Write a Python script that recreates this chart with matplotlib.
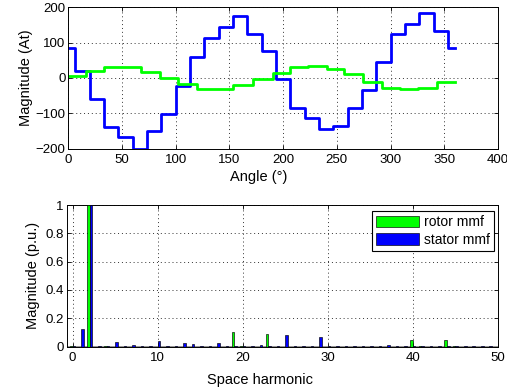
import matplotlib
matplotlib.use("Agg")
import matplotlib.pyplot as plt
import numpy as np

plt.rcParams['font.family'] = ['Liberation Sans', 'DejaVu Sans']

# --- top plot: MMF waveforms vs angle ---
stator_edges = [0, 6.7, 20, 33.3, 46.7, 60, 73.3, 86.7, 100, 113.3, 126.7, 140, 153.3,
                166.7, 180, 193.3, 206.7, 220, 233.3, 246.7, 260, 273.3, 286.7, 300,
                313.3, 326.7, 340, 353.3, 360]
stator_mmf = [86, 21, -59, -139, -168, -200, -150, -101, -22, 58, 114, 144, 175, 125,
              76, -4, -84, -113, -144, -135, -86, -35, 45, 124, 154, 185, 134, 84]

rotor_edges = [0, 16.5, 33.5, 50.5, 68, 85.4, 102.4, 119.5, 136.6, 153.6, 172.2, 190.3,
               206.4, 223.4, 240.5, 257, 274, 291.7, 308.8, 325.8, 342.9, 360]
rotor_mmf = [6, 21, 32, 30, 18, -1, -18, -31, -32, -20, -4, 15, 30, 35, 25, 10, -10,
             -27, -32, -29, -12]

# --- bottom plot: harmonic spectrum ---
harmonics = list(range(51))
rotor_harm = [0.004, 0, 1.0, 0, 0.002, 0, 0, 0, 0, 0,
              0, 0, 0, 0, 0, 0, 0, 0, 0, 0.105,
              0.003, 0, 0, 0.087, 0, 0, 0, 0, 0, 0,
              0, 0, 0, 0, 0, 0, 0, 0, 0, 0,
              0.047, 0.003, 0, 0, 0.044, 0.002, 0, 0, 0, 0,
              0]
stator_harm = [0.004, 0.125, 1.0, 0.002, 0.003, 0.033, 0.002, 0.012, 0.004, 0.003,
               0.038, 0.004, 0.003, 0.022, 0.019, 0.003, 0.004, 0.023, 0.002, 0.002,
               0.003, 0.003, 0.008, 0.002, 0.003, 0.083, 0.004, 0.003, 0.004, 0.07,
               0.002, 0.003, 0.004, 0.003, 0.003, 0.003, 0.004, 0.01, 0.003, 0.003,
               0.002, 0.004, 0.003, 0.003, 0.002, 0.003, 0.003, 0.003, 0.003, 0.004,
               0.003]

W, H = 507, 389
fig = plt.figure(figsize=(W / 100, H / 100), dpi=100)

def px_axes(x0, y0, x1, y1):
    return fig.add_axes([x0 / W, 1 - y1 / H, (x1 - x0) / W, (y1 - y0) / H])

TICK_FS = 9.5
LABEL_FS = 10.5

def style(ax):
    ax.grid(True, linestyle=(0, (1, 3)), color='0.2', linewidth=0.7)
    ax.tick_params(direction='in', top=True, right=True, labelsize=TICK_FS,
                   length=3, width=0.6)
    ax.tick_params(axis='x', pad=4)
    ax.tick_params(axis='y', pad=2)
    for s in ax.spines.values():
        s.set_linewidth(0.7)
    ax.set_axisbelow(True)

ax1 = px_axes(68.3, 7.3, 498, 148.7)
ax1.step(stator_edges, stator_mmf + [stator_mmf[-1]], where='post', color='#0000ff', lw=2.0)
ax1.step(rotor_edges, rotor_mmf + [rotor_mmf[-1]], where='post', color='#00ff00', lw=2.0)
ax1.set_xlim(0, 400)
ax1.set_ylim(-200, 200)
ax1.set_xticks(np.arange(0, 401, 50))
ax1.set_yticks(np.arange(-200, 201, 100))
ax1.set_xlabel('Angle (°)', fontsize=LABEL_FS)
ax1.set_ylabel('Magnitude (At)', fontsize=LABEL_FS, labelpad=2)
ax1.xaxis.set_label_coords(0.444, -0.15)
style(ax1)

ax2 = px_axes(66.7, 205, 498, 346.5)
x = np.array(harmonics)
bw = 0.3
ax2.bar(x - 0.15, rotor_harm, width=bw, color='#00ff00', edgecolor='black', lw=0.45,
        label='rotor mmf', zorder=3)
ax2.bar(x + 0.15, stator_harm, width=bw, color='#0000ff', edgecolor='black', lw=0.45,
        label='stator mmf', zorder=3)
ax2.axhline(0, color='0.45', lw=1.8, zorder=2.5)
ax2.set_xlim(-0.7, 50)
ax2.set_ylim(0, 1)
ax2.set_xticks(np.arange(0, 51, 10))
ax2.set_yticks([0, 0.2, 0.4, 0.6, 0.8, 1])
ax2.set_yticklabels(['0', '0.2', '0.4', '0.6', '0.8', '1'])
ax2.set_xlabel('Space harmonic', fontsize=LABEL_FS)
ax2.set_ylabel('Magnitude (p.u.)', fontsize=LABEL_FS, labelpad=4)
ax2.xaxis.set_label_coords(0.448, -0.19)
style(ax2)
leg = ax2.legend(loc='upper right', fontsize=10, fancybox=False, framealpha=1,
                 edgecolor='black', handlelength=3.1, handleheight=0.9,
                 borderpad=0.3, labelspacing=0.25, handletextpad=0.3,
                 borderaxespad=0.0, bbox_to_anchor=(0.99, 0.957))
leg.get_frame().set_linewidth(0.8)

fig.savefig('out.png', dpi=100)
